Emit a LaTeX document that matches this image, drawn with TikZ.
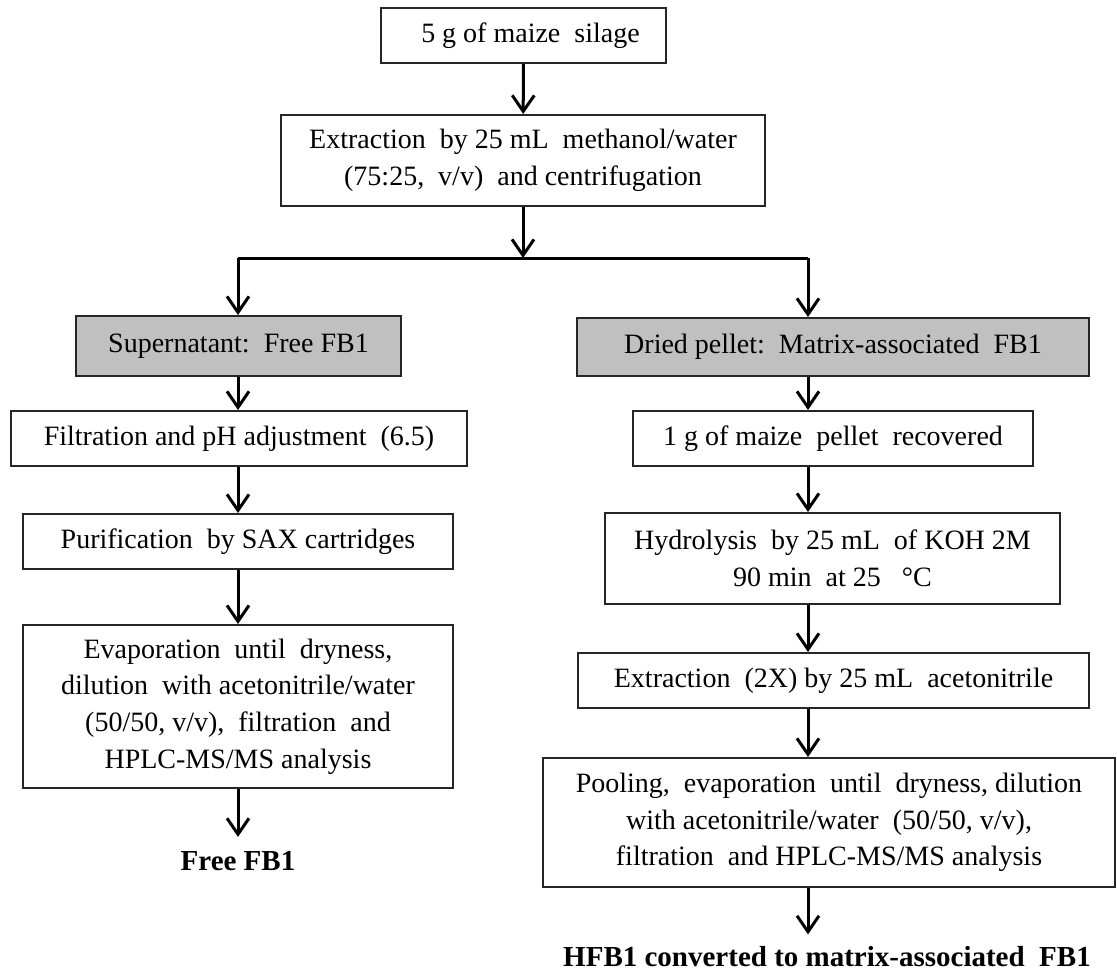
\documentclass[tikz,border=0pt]{standalone}
\usepackage{fontspec}
\setmainfont{Liberation Serif}
\usetikzlibrary{arrows.meta}
\definecolor{boxgray}{RGB}{192,192,192}
\begin{document}
\begin{tikzpicture}[x=0.5pt,y=-0.5pt,
  box/.style={draw=black!85, line width=1pt, align=center, inner sep=0pt,
    font=\fontsize{14}{18.3}\selectfont},
  graybox/.style={box, fill=boxgray},
  endtext/.style={inner sep=0pt, font=\fontsize{14.5}{18}\selectfont\bfseries},
  arr/.style={line width=1.5pt, -{Straight Barb[length=8pt,width=11pt]}},
  ln/.style={line width=1.5pt}]
\useasboundingbox (0,0) rectangle (1117,974);
% top
\node[box, minimum width=142.5pt, minimum height=27.5pt] (n1) at (523.5,35.5) {\ \ 5 g of maize\ \ silage};
\node[box, minimum width=242pt, minimum height=45.5pt] (n2) at (523,160.5)
  {Extraction\ \ by 25 mL\ \ methanol/water\\(75:25,\ \ v/v)\ \ and centrifugation};
\coordinate (split) at (523,258);
\coordinate (L) at (238,258);
\coordinate (R) at (808,258);
% left column
\node[graybox, minimum width=162.5pt, minimum height=30pt] (sup) at (238.5,346) {Supernatant:\ \ Free FB1};
\node[box, minimum width=228pt, minimum height=27.5pt] (filt) at (239,438.5) {Filtration and pH adjustment\ \ (6.5)};
\node[box, minimum width=215pt, minimum height=27.5pt] (purif) at (238,541.5) {Purification\ \ by SAX cartridges};
\node[box, minimum width=215pt, minimum height=81.5pt] (evap) at (238,706.5)
  {Evaporation\ \ until\ \ dryness,\\dilution\ \ with acetonitrile/water\\(50/50,\ v/v),\ \ filtration\ \ and\\HPLC-MS/MS analysis};
\node[endtext] (free) at (238,861) {Free FB1};
% right column
\node[graybox, minimum width=256pt, minimum height=29pt] (dried) at (833,347) {Dried pellet:\ \ Matrix-associated\ \ FB1};
\node[box, minimum width=200pt, minimum height=27.5pt] (g1) at (833,438.5) {1 g of maize\ \ pellet\ \ recovered};
\node[box, minimum width=227.5pt, minimum height=45.5pt] (hyd) at (832.5,558.5)
  {Hydrolysis\ \ by 25 mL\ \ of KOH 2M\\90 min\ \ at 25\ \ \ °C};
\node[box, minimum width=255.5pt, minimum height=27.5pt] (ext2) at (833.5,680.5) {Extraction\ \ (2X) by 25 mL\ \ acetonitrile};
\node[box, minimum width=286pt, minimum height=64.5pt] (pool) at (829,822.5)
  {Pooling,\ \ evaporation\ \ until\ \ dryness,\ dilution\\with acetonitrile/water\ \ (50/50, v/v),\\filtration\ \ and HPLC-MS/MS analysis};
\node[endtext] (hfb) at (827,957) {HFB1\ converted\ to\ matrix-associated\ \ FB1};
% connectors
\draw[arr] (n1) -- (n2);
\draw[arr] (n2.south) -- (split);
\draw[ln] (L) -- (R);
\draw[arr] (L) -- (L |- sup.north);
\draw[arr] (R) -- (R |- dried.north);
\draw[arr] (L |- sup.south) -- (L |- filt.north);
\draw[arr] (L |- filt.south) -- (L |- purif.north);
\draw[arr] (L |- purif.south) -- (L |- evap.north);
\draw[arr] (L |- evap.south) -- ([yshift=7pt]L |- free.north);
\draw[arr] (R |- dried.south) -- (R |- g1.north);
\draw[arr] (R |- g1.south) -- (R |- hyd.north);
\draw[arr] (R |- hyd.south) -- (R |- ext2.north);
\draw[arr] (R |- ext2.south) -- (R |- pool.north);
\draw[arr] (R |- pool.south) -- ([yshift=6pt]R |- hfb.north);
\end{tikzpicture}
\end{document}
